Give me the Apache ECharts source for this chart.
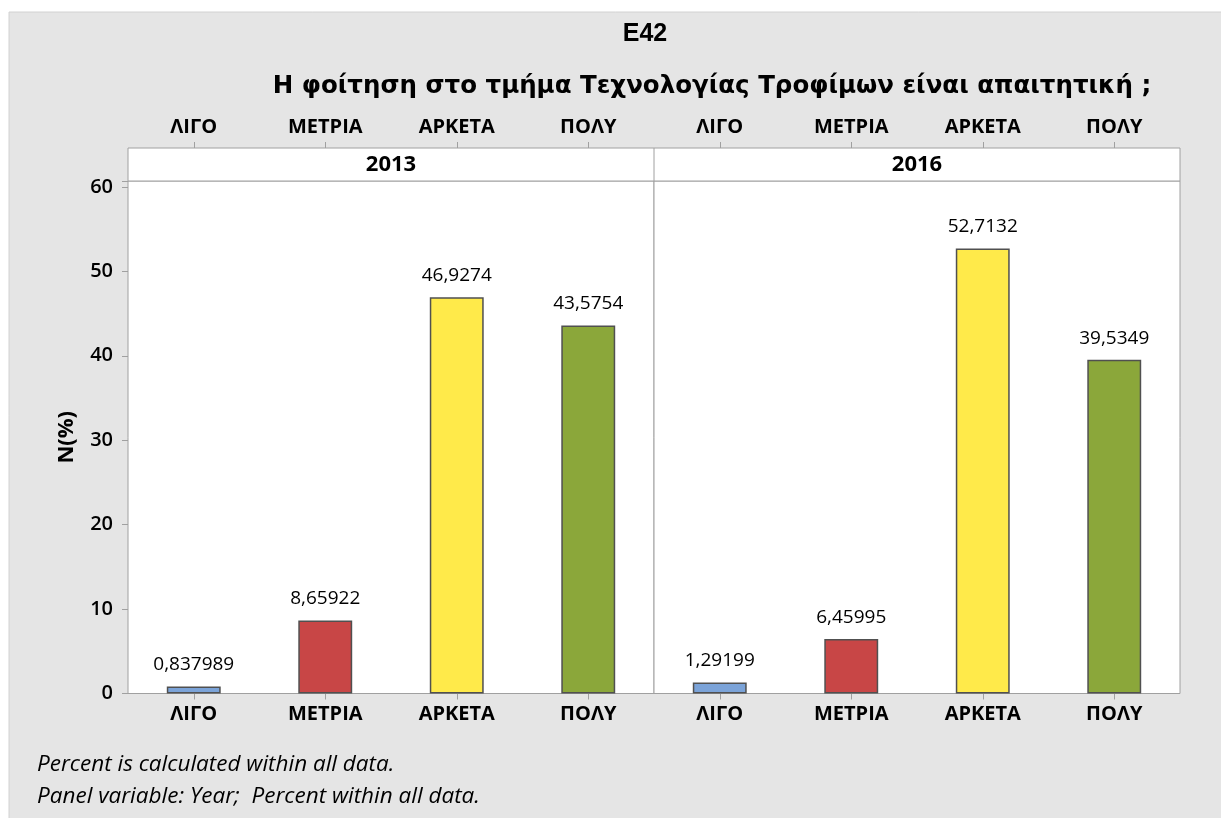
<!DOCTYPE html>
<html lang="el">
    <head>
        <meta charset="UTF-8" />
        <title>E42 - Η φοίτηση στο τμήμα Τεχνολογίας Τροφίμων</title>
        <script src="https://cdn.jsdelivr.net/npm/echarts@6/dist/echarts.min.js"></script>
        <style>
            body { margin: 0; background: #fff; }
        </style>
    </head>
    <body>
        <!-- Chart container -->
        <div id="main" style="width: 1221px; height: 818px"></div>

        <script>
            // Data
            const categories = ["ΛΙΓΟ", "ΜΕΤΡΙΑ", "ΑΡΚΕΤΑ", "ΠΟΛΥ"];
            const years = ["2013", "2016"];
            const values2013 = [0.837989, 8.65922, 46.9274, 43.5754];
            const values2016 = [1.29199, 6.45995, 52.7132, 39.5349];
            const barColors = ["#7ba3d8", "#c84646", "#ffea4a", "#8ba73a"];
            const yTicks = [0, 10, 20, 30, 40, 50, 60];

            const titleText = "E42";
            const subTitleText = "Η φοίτηση στο τμήμα Τεχνολογίας Τροφίμων είναι απαιτητική ;";
            const footnotes = [
                "Percent is calculated within all data.",
                "Panel variable: Year;  Percent within all data."
            ];

            // Layout (pixels)
            const plotLeft = 128, panelWidth = 526, plotTop = 181, plotBottom = 693.5;
            const stripHeight = 33;
            const borderColor = "#a0a0a0";
            const labelFont = "'Open Sans', 'Noto Sans', sans-serif";

            let myChart = echarts.init(document.getElementById("main"));

            const panelValues = [values2013, values2016];

            const grids = years.map((y, i) => ({
                left: plotLeft + i * panelWidth,
                top: plotTop,
                width: panelWidth,
                height: plotBottom - plotTop,
                show: true,
                backgroundColor: "#ffffff",
                borderColor: borderColor,
                borderWidth: 1
            }));

            const catLabel = { color: "#000", fontFamily: labelFont, fontWeight: 700, fontSize: 20 };

            const xAxes = [];
            years.forEach((y, i) => {
                // bottom axis
                xAxes.push({
                    type: "category",
                    gridIndex: i,
                    data: categories,
                    axisLine: { show: false },
                    axisTick: { show: true, alignWithLabel: true, length: 6, lineStyle: { color: borderColor } },
                    axisLabel: Object.assign({ margin: 11 }, catLabel)
                });
                // top axis, above the panel strip
                xAxes.push({
                    type: "category",
                    gridIndex: i,
                    position: "top",
                    offset: stripHeight,
                    data: categories,
                    axisLine: { show: false },
                    axisTick: { show: true, alignWithLabel: true, length: 6, lineStyle: { color: borderColor } },
                    axisLabel: Object.assign({ margin: 11 }, catLabel)
                });
            });

            const yAxes = years.map((y, i) => ({
                type: "value",
                gridIndex: i,
                min: yTicks[0],
                max: 60.7,
                interval: yTicks[1] - yTicks[0],
                name: i === 0 ? "N(%)" : "",
                nameLocation: "middle",
                nameGap: 50,
                nameTextStyle: { color: "#000", fontFamily: labelFont, fontWeight: "bold", fontSize: 22 },
                axisLine: { show: false },
                splitLine: { show: false },
                axisTick: { show: i === 0, length: 6, lineStyle: { color: borderColor } },
                axisLabel: {
                    show: i === 0,
                    color: "#000",
                    fontFamily: labelFont,
                    fontWeight: 600,
                    fontSize: 20,
                    margin: 15,
                    formatter: (v) => (yTicks.includes(v) ? String(v) : "")
                }
            }));

            const series = years.map((y, i) => ({
                name: y,
                type: "bar",
                xAxisIndex: i * 2,
                yAxisIndex: i,
                barWidth: "41%",
                data: panelValues[i].map((v, j) => ({
                    value: v,
                    itemStyle: { color: barColors[j] }
                })),
                itemStyle: { borderColor: "#505050", borderWidth: 1.5 },
                label: {
                    show: true,
                    position: "top",
                    distance: 12,
                    color: "#000",
                    fontFamily: labelFont,
                    fontSize: 19,
                    formatter: (p) => String(p.value).replace(".", ",")
                }
            }));

            const stripTop = plotTop - stripHeight;
            const graphics = [
                // grey page background
                {
                    type: "rect", z: -10, silent: true,
                    shape: { x: 9, y: 12, width: 1221, height: 818 },
                    style: { fill: "#e5e5e5", stroke: "#d2d2d2", lineWidth: 1 }
                },
                // panel strip
                {
                    type: "rect", z: 10, silent: true,
                    shape: { x: plotLeft, y: stripTop, width: panelWidth * years.length, height: stripHeight },
                    style: { fill: "#ffffff", stroke: borderColor, lineWidth: 1 }
                },
                {
                    type: "line", z: 10, silent: true,
                    shape: { x1: plotLeft + panelWidth, y1: stripTop, x2: plotLeft + panelWidth, y2: plotTop },
                    style: { stroke: borderColor, lineWidth: 1 }
                },
                {
                    type: "text", z: 11, silent: true,
                    style: {
                        text: titleText, x: 645, y: 34,
                        textAlign: "center", textVerticalAlign: "middle",
                        font: "bold 25px 'Liberation Sans', Arial, sans-serif", fill: "#000"
                    }
                },
                {
                    type: "text", z: 11, silent: true,
                    style: {
                        text: subTitleText, x: 712, y: 87,
                        textAlign: "center", textVerticalAlign: "middle",
                        font: "bold 24.5px 'DejaVu Sans', sans-serif", fill: "#000"
                    }
                }
            ];
            years.forEach((y, i) => {
                graphics.push({
                    type: "text", z: 11, silent: true,
                    style: {
                        text: y, x: plotLeft + panelWidth * (i + 0.5), y: stripTop + stripHeight / 2,
                        textAlign: "center", textVerticalAlign: "middle",
                        font: "bold 22px " + labelFont, fill: "#000"
                    }
                });
            });
            footnotes.forEach((t, i) => {
                graphics.push({
                    type: "text", z: 11, silent: true,
                    style: {
                        text: t, x: 37, y: 765 + i * 32,
                        textAlign: "left", textVerticalAlign: "middle",
                        font: "italic 22.5px " + labelFont, fill: "#000"
                    }
                });
            });

            let options = {
                animation: false,
                backgroundColor: "#ffffff",
                grid: grids,
                xAxis: xAxes,
                yAxis: yAxes,
                series: series,
                graphic: graphics
            };

            myChart.setOption(options);
        </script>
    </body>
</html>
